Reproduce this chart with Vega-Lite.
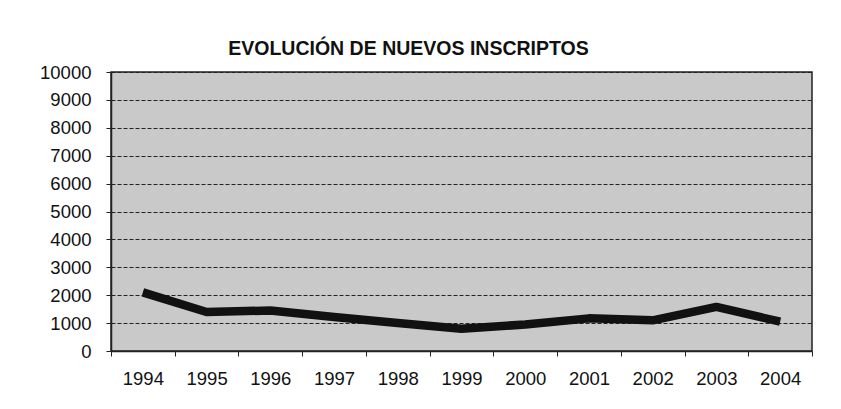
{
  "$schema": "https://vega.github.io/schema/vega-lite/v6.json",
  "width": 701,
  "height": 279,
  "autosize": {"type": "none"},
  "padding": {"left": 111, "top": 72, "right": 29, "bottom": 58},
  "background": "#ffffff",
  "title": {
    "text": "EVOLUCIÓN DE NUEVOS INSCRIPTOS",
    "font": "Liberation Sans",
    "fontSize": 19.5,
    "fontWeight": "bold",
    "color": "#111111",
    "anchor": "middle",
    "dx": -53,
    "offset": 4
  },
  "data": {
    "values": [
      {"anio": "1994", "inscriptos": 2100},
      {"anio": "1995", "inscriptos": 1400},
      {"anio": "1996", "inscriptos": 1450},
      {"anio": "1997", "inscriptos": 1220},
      {"anio": "1998", "inscriptos": 1000},
      {"anio": "1999", "inscriptos": 800},
      {"anio": "2000", "inscriptos": 950},
      {"anio": "2001", "inscriptos": 1170},
      {"anio": "2002", "inscriptos": 1100},
      {"anio": "2003", "inscriptos": 1580},
      {"anio": "2004", "inscriptos": 1050}
    ]
  },
  "config": {
    "view": {"fill": "#c9c9c9", "stroke": "#222222", "strokeWidth": 1.5},
    "axis": {
      "labelFont": "Liberation Sans",
      "labelFontSize": 18.5,
      "labelColor": "#111111",
      "domainColor": "#222222",
      "tickColor": "#222222"
    }
  },
  "mark": {"type": "line", "color": "#111111", "strokeWidth": 8.5, "strokeCap": "butt", "strokeJoin": "round"},
  "encoding": {
    "x": {
      "field": "anio",
      "type": "ordinal",
      "scale": {"paddingInner": 0, "paddingOuter": 0},
      "axis": {
        "title": null,
        "labelAngle": 0,
        "labelPadding": 13,
        "tickSize": 5,
        "tickBand": "extent",
        "grid": false,
        "domainWidth": 1.5
      }
    },
    "y": {
      "field": "inscriptos",
      "type": "quantitative",
      "scale": {"domain": [0, 10000], "nice": false},
      "axis": {
        "title": null,
        "values": [0, 1000, 2000, 3000, 4000, 5000, 6000, 7000, 8000, 9000, 10000],
        "format": "d",
        "labelPadding": 15,
        "tickSize": 5,
        "grid": true,
        "gridColor": "#222222",
        "gridDash": [4, 2],
        "gridWidth": 1.2,
        "domainWidth": 1.5
      }
    }
  }
}
